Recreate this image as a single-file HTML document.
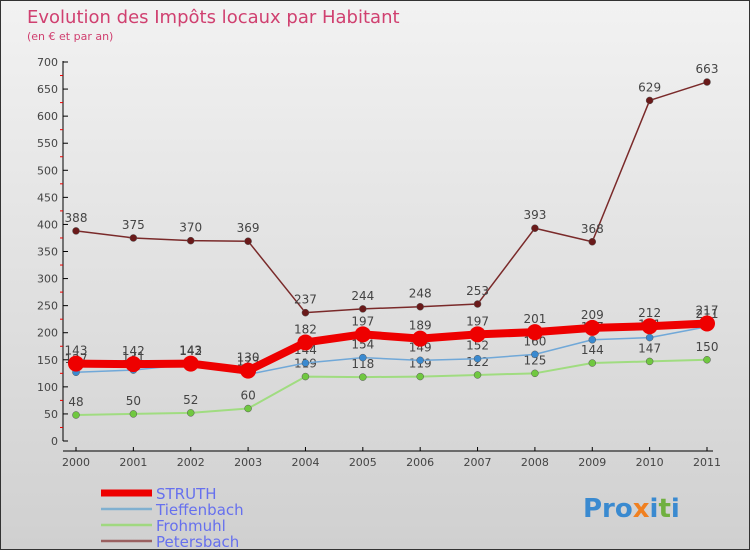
<!DOCTYPE html>
<html><head><meta charset="utf-8"><style>
body{margin:0}
#c{width:750px;height:550px;position:relative;font-family:"DejaVu Sans","Liberation Sans",sans-serif;background:linear-gradient(#f2f2f2,#d0d0d0);box-sizing:border-box;border:1px solid #333;overflow:hidden}
</style></head><body>
<div id="c">
<svg id="s" width="750" height="550" style="position:absolute;left:0;top:0">
<text x="26" y="22" font-size="18" fill="#d04070">Evolution des Impôts locaux par Habitant</text>
<text x="26" y="39" font-size="11" fill="#d04070">(en € et par an)</text>
<g id="ax"></g><g id="ser"></g><g id="leg"></g>
<text x="582" y="516" font-size="26" font-weight="bold" fill="#3a8ad0">Pro<tspan fill="#f08020">x</tspan>i<tspan fill="#70b040">t</tspan>i</text>
</svg>
</div>
<script>
const years=["2000","2001","2002","2003","2004","2005","2006","2007","2008","2009","2010","2011"];
const yTicks=[0,50,100,150,200,250,300,350,400,450,500,550,600,650,700];
const struth=[143,142,143,130,182,197,189,197,201,209,212,217];
const tieffenbach=[127,131,142,123,144,154,149,152,160,187,191,211];
const frohmuhl=[48,50,52,60,119,118,119,122,125,144,147,150];
const petersbach=[388,375,370,369,237,244,248,253,393,368,629,663];
const NS="http://www.w3.org/2000/svg";
const X=i=>75+i*(706-75)/11, Y=v=>440-v*(379/700);
function mk(tag,at,par,txt){const e=document.createElementNS(NS,tag);for(const k in at)e.setAttribute(k,at[k]);if(txt!==undefined)e.textContent=txt;par.appendChild(e);return e;}
const ax=document.getElementById('ax');
let e=mk('line',{x1:62,y1:60,x2:62,y2:440,stroke:'#000'},ax);

e=mk('line',{x1:62,y1:450,x2:712,y2:450,stroke:'#000'},ax);

yTicks.forEach(v=>{mk('line',{x1:62,y1:Y(v),x2:67,y2:Y(v),stroke:'#000'},ax);
 if(v<700)mk('line',{x1:59,y1:Y(v+25),x2:62,y2:Y(v+25),stroke:'#e00'},ax);
 e=mk('text',{x:57,y:Y(v)+4,'font-size':11,'text-anchor':'end',fill:'#444'},ax,String(v));
 });
years.forEach((y,i)=>{mk('line',{x1:X(i),y1:446,x2:X(i),y2:450,stroke:'#000'},ax);
 e=mk('text',{x:X(i),y:465,'font-size':11,'text-anchor':'middle',fill:'#444'},ax,y);
 });
const series=[
 {n:'petersbach',d:petersbach,c:'#7a2a2a',w:1.5,r:3.5,f:'#6a1a1a'},
 {n:'frohmuhl',d:frohmuhl,c:'#a0dc80',w:2,r:3.5,f:'#70c840'},
 {n:'tieffenbach',d:tieffenbach,c:'#70a8d8',w:1.5,r:3.5,f:'#3a8ad0'},
 {n:'struth',d:struth,c:'#ee0000',w:8,r:8,f:'#ee0000'}];
const sg=document.getElementById('ser');
series.forEach(s=>{const g=mk('g',{},sg);
 e=mk('polyline',{points:s.d.map((v,i)=>X(i)+','+Y(v)).join(' '),fill:'none',stroke:s.c,'stroke-width':s.w,'stroke-linejoin':'round'},g);
 
 s.d.forEach((v,i)=>{e=mk('circle',{cx:X(i),cy:Y(v),r:s.r,fill:s.f,stroke:'#555','stroke-width':s.n=='struth'?0:0.5},g);
  
  e=mk('text',{x:X(i),y:Y(v)-9,'font-size':12,'text-anchor':'middle',fill:'#444'},g,String(v));
  });});
const lg=document.getElementById('leg');
[['STRUTH','#ee0000',7],['Tieffenbach','#80b0d0',2.5],['Frohmuhl','#a0d880',2.5],['Petersbach','#9a6060',2.5]].forEach((l,i)=>{
 const yy=492+i*16;const g=mk('g',{},lg);
 mk('line',{x1:100,y1:yy,x2:151,y2:yy,stroke:l[1],'stroke-width':l[2]},g);
 mk('text',{x:155,y:yy+6,'font-size':15,fill:'#6670ee'},g,l[0]);});
</script>
</body></html>
